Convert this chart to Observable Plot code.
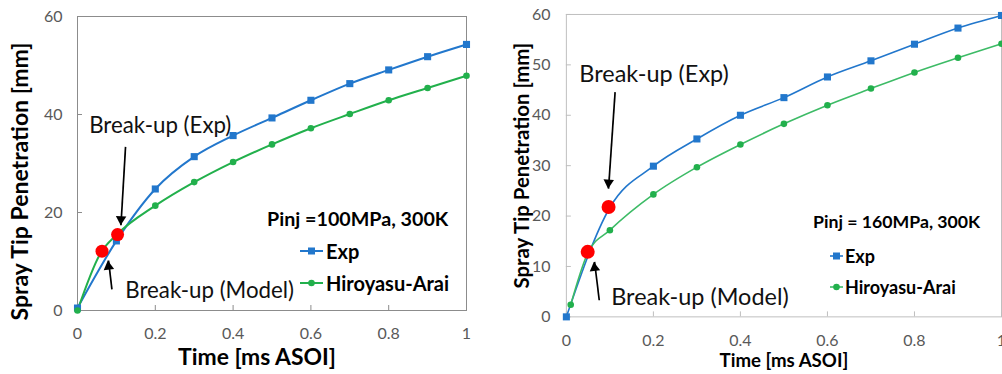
<!DOCTYPE html>
<html><head><meta charset="utf-8">
<script src="https://cdn.jsdelivr.net/npm/d3@7"></script>
<script src="https://cdn.jsdelivr.net/npm/@observablehq/plot@0.6"></script>
<style>
body{margin:0;background:#fff;}
#wrap{position:relative;width:1002px;height:374px;overflow:hidden;font-family:Lato,sans-serif}
.panel{position:absolute;top:0}
.lg{position:absolute;font-weight:bold;color:#000;line-height:1;white-space:nowrap;transform:translateY(-50%)}
.sw{position:absolute;transform:translateY(-50%)}
</style></head><body>
<div id="wrap">
  <div id="p1" class="panel" style="left:0"></div>
  <div id="p2" class="panel" style="left:500px"></div>
</div>
<script>
// ---------- data ----------
const xTicks = [0, 0.2, 0.4, 0.6, 0.8, 1];
const yTicksL = [0, 20, 40, 60];
const yTicksR = [0, 10, 20, 30, 40, 50, 60];

// Left panel: Pinj = 100 MPa
const tExpL = [0, 0.1, 0.2, 0.3, 0.4, 0.5, 0.6, 0.7, 0.8, 0.9, 1.0];
const vExpL = [0.5, 14.2, 24.8, 31.4, 35.7, 39.3, 42.9, 46.3, 49.1, 51.8, 54.3];
const tHAL = [0, 0.06, 0.1, 0.2, 0.3, 0.4, 0.5, 0.6, 0.7, 0.8, 0.9, 1.0];
const vHAL = [0, 11.8, 15.4, 21.4, 26.2, 30.3, 33.9, 37.2, 40.1, 42.9, 45.4, 47.9];
const tBreakL = [0.103, 0.063];
const vBreakL = [15.5, 12.1];

// Right panel: Pinj = 160 MPa
const tExpR = [0, 0.1, 0.2, 0.3, 0.4, 0.5, 0.6, 0.7, 0.8, 0.9, 1.0];
const vExpR = [0, 21.7, 29.9, 35.3, 40.0, 43.5, 47.6, 50.8, 54.1, 57.3, 59.8];
const tHAR = [0.01, 0.05, 0.1, 0.2, 0.3, 0.4, 0.5, 0.6, 0.7, 0.8, 0.9, 1.0];
const vHAR = [2.4, 12.8, 17.2, 24.3, 29.7, 34.2, 38.3, 42.0, 45.3, 48.5, 51.4, 54.2];
const tBreakR = [0.097, 0.049];
const vBreakR = [21.8, 12.9];

// annotation labels and arrows (data units)
const labels = ["Break-up (Exp)", "Break-up (Model)"];
const labelXL = [0.030, 0.1227], labelYL = [37.6, 4.1];
const labelXR = [0.0298, 0.103], labelYR = [48.0, 3.77];
const arrowL = {x1: [0.1235, 0.0885], y1: [33.4, 4.3], x2: [0.1117, 0.0798], y2: [17.4, 10.2]};
const arrowR = {x1: [0.112, 0.0756], y1: [44.6, 3.3], x2: [0.0969, 0.0648], y2: [25.45, 10.9]};
const arrowRotL = [183, -7], arrowRotR = [184, -7];

const seriesNames = ["Exp", "Hiroyasu-Arai"];
const titleL = "Pinj =100MPa, 300K";
const titleR = "Pinj = 160MPa, 300K";
const xLabel = "Time [ms ASOI]";
const yLabel = "Spray Tip Penetration [mm]";

const BLUE = "#2277cc", GREEN = "#22b04c", GREEN2 = "#3dbb66", RED = "#ff0000";

const zip = (t, v) => t.map((x, i) => ({x, y: v[i]}));

function panel(o) {
  const exp = zip(o.tExp, o.vExp), ha = zip(o.tHA, o.vHA), br = zip(o.tBr, o.vBr);
  const lab = labels.map((s, i) => ({s, x: o.labX[i], y: o.labY[i]}));
  const arr = o.arrow.x1.map((_, i) => ({x1: o.arrow.x1[i], y1: o.arrow.y1[i], x2: o.arrow.x2[i], y2: o.arrow.y2[i], rot: o.rot[i], down: o.arrow.y2[i] < o.arrow.y1[i]}));
  const heads = arr.filter(d => d.down), headsUp = arr.filter(d => !d.down);
  return Plot.plot({
    width: o.width, height: 374,
    marginLeft: o.ml, marginRight: o.mr, marginTop: o.mt, marginBottom: o.mb,
    x: {domain: [0, 1]},
    y: {domain: [0, 60]},
    style: {fontFamily: "Lato, sans-serif", background: "transparent", overflow: "visible"},
    marks: [
      Plot.frame({stroke: o.frame, strokeWidth: 1}),
      Plot.ruleX(xTicks, {x: d => d, y1: 0, y2: 0, insetBottom: 5, stroke: o.frame}),
      Plot.ruleY(o.yTicks, {y: d => d, x1: 0, x2: 0, insetRight: -5, stroke: o.frame}),
      Plot.axisX(xTicks, {tickSize: 0, tickPadding: o.xpad, fontSize: o.tickFont, fill: "#595959", tickFormat: d => String(d), label: null}),
      Plot.axisY(o.yTicks, {tickSize: 0, tickPadding: o.ypad, fontSize: o.tickFont, fill: "#595959", tickFormat: d => String(d), label: null}),
      Plot.text([yLabel], {frameAnchor: "left", textAnchor: "middle", lineAnchor: "middle", rotate: -90, dx: o.ylx, dy: o.yly, fontSize: o.yFont, fontWeight: "bold", fill: "#000", text: d => d}),
      Plot.text([xLabel], {frameAnchor: "bottom", textAnchor: "middle", dx: o.xlx, dy: o.xly, fontSize: o.xFont, fontWeight: "bold", fill: "#000", text: d => d, lineAnchor: "middle"}),
      Plot.line(exp, {x: "x", y: "y", stroke: BLUE, strokeWidth: o.lw, curve: "monotone-x"}),
      Plot.line(ha, {x: "x", y: "y", stroke: o.green, strokeWidth: o.lw, curve: "monotone-x"}),
      Plot.dot(exp, {x: "x", y: "y", symbol: "square", r: 4, fill: BLUE}),
      Plot.dot(ha, {x: "x", y: "y", symbol: "circle", r: 3.3, fill: GREEN}),
      Plot.dot(br, {x: "x", y: "y", r: o.rr, fill: RED}),
      Plot.link(arr, {x1: "x1", y1: "y1", x2: "x2", y2: "y2", stroke: "#000", strokeWidth: 1.7}),
      Plot.dot(heads, {x: "x2", y: "y2", symbol: "triangle", r: 3.9, rotate: "rot", fill: "#000", dy: -6}),
      Plot.dot(headsUp, {x: "x2", y: "y2", symbol: "triangle", r: 3.9, rotate: "rot", fill: "#000", dy: 6}),
      Plot.text(lab, {x: "x", y: "y", text: "s", textAnchor: "start", lineAnchor: "middle", fontSize: o.annFont, fill: "#111"})
    ]
  });
}

document.getElementById("p1").append(panel({
  width: 500, ml: 77, mr: 34, mt: 16, mb: 64, frame: "#8c8c8c", yTicks: yTicksL,
  tExp: tExpL, vExp: vExpL, tHA: tHAL, vHA: vHAL, tBr: tBreakL, vBr: vBreakL,
  labX: labelXL, labY: labelYL, arrow: arrowL, rot: arrowRotL, green: GREEN, lw: 2, rr: 6.5,
  xpad: 17, ypad: 15, tickFont: 16, yFont: 23, xFont: 22.9, ylx: -57, yly: 18, xlx: -15, xly: 47, annFont: 22.3
}));
document.getElementById("p2").append(panel({
  width: 503, ml: 66, mr: 1, mt: 14, mb: 57, frame: "#bfbfbf", yTicks: yTicksR,
  tExp: tExpR, vExp: vExpR, tHA: tHAR, vHA: vHAR, tBr: tBreakR, vBr: vBreakR,
  labX: labelXR, labY: labelYR, arrow: arrowR, rot: arrowRotR, green: GREEN2, lw: 1.6, rr: 7,
  xpad: 18, ypad: 16, tickFont: 16, yFont: 20.4, xFont: 18.7, ylx: -44, yly: 0, xlx: 0, xly: 44, annFont: 23.5
}));

// ---------- legends (HTML overlay) ----------
const wrap = document.getElementById("wrap");
function addText(txt, left, cy, size) {
  const d = document.createElement("div");
  d.className = "lg"; d.textContent = txt;
  d.style.left = left + "px"; d.style.top = cy + "px"; d.style.fontSize = size + "px";
  wrap.append(d);
}
function addSwatch(left, cy, w, color, sym, lw) {
  const ns = "http://www.w3.org/2000/svg";
  const s = document.createElementNS(ns, "svg");
  s.setAttribute("width", w); s.setAttribute("height", 10);
  s.setAttribute("class", "sw");
  s.style.left = left + "px"; s.style.top = cy + "px";
  const l = document.createElementNS(ns, "line");
  l.setAttribute("x1", 0); l.setAttribute("x2", w); l.setAttribute("y1", 5); l.setAttribute("y2", 5);
  l.setAttribute("stroke", color); l.setAttribute("stroke-width", lw);
  s.append(l);
  if (sym === "square") {
    const r = document.createElementNS(ns, "rect");
    r.setAttribute("x", w / 2 - 3.5); r.setAttribute("y", 1.5); r.setAttribute("width", 7); r.setAttribute("height", 7);
    r.setAttribute("fill", BLUE); s.append(r);
  } else {
    const c = document.createElementNS(ns, "circle");
    c.setAttribute("cx", w / 2); c.setAttribute("cy", 5); c.setAttribute("r", 3.3);
    c.setAttribute("fill", GREEN); s.append(c);
  }
  wrap.append(s);
}
addText(titleL, 267, 219, 19.7);
addSwatch(300, 251, 23, BLUE, "square", 2);
addText(seriesNames[0], 326, 251, 20);
addSwatch(300, 283, 23, GREEN, "circle", 2);
addText(seriesNames[1], 326, 283, 20);

addText(titleR, 813, 222, 17.7);
addSwatch(830, 256, 13, BLUE, "square", 1.6);
addText(seriesNames[0], 845, 256, 18);
addSwatch(830, 287, 13, GREEN2, "circle", 1.6);
addText(seriesNames[1], 845, 287, 18);
</script>
</body></html>
